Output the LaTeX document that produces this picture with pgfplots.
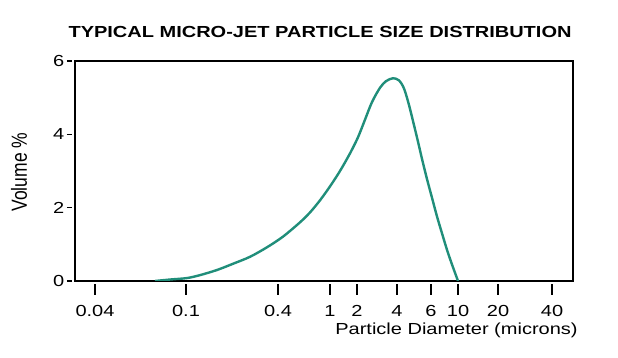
\documentclass[border=0pt]{standalone}
\usepackage{fontspec}
\setmainfont{Liberation Sans}[FakeStretch=1.25]
\newfontfamily\plainfont{Liberation Sans}
\usepackage{graphicx}
\usepackage{pgfplots}
\pgfplotsset{compat=1.18}
\definecolor{curve}{RGB}{32,142,122}
\begin{document}
\begin{tikzpicture}[x=1pt,y=1pt]
\path[use as bounding box] (0,0) rectangle (618,358);
\begin{axis}[
  at={(75pt,77pt)}, anchor=south west,
  scale only axis, width=498pt, height=220pt,
  xmin=75, xmax=573, ymin=0, ymax=6,
  xtick={95,186,278,330,357,397,431,458,498,552},
  xticklabels={0.04,0.1,0.4,1,2,4,6,10,20,40},
  ytick={0,2,4,6},
  axis line style={line width=2pt},
  tick align=outside, tick pos=left,
  xtick style={line width=1.6pt, black, /pgfplots/major tick length=11pt, yshift=-3pt},
  ytick style={line width=1.6pt, black, /pgfplots/major tick length=5pt, xshift=-3pt},
  /pgf/number format/assume math mode=true,
  ticklabel style={font=\fontsize{16}{19}\selectfont},
  xticklabel style={anchor=north, yshift=-17pt},
  yticklabel style={anchor=east, xshift=-3pt},
  every axis title shift=0pt,
  title={\bfseries TYPICAL MICRO-JET PARTICLE SIZE DISTRIBUTION},
  title style={at={(rel axis cs:0.492,1.109)}, anchor=base, font=\fontsize{16}{19}\selectfont},
  xlabel={Particle Diameter (microns)},
  xlabel style={at={(rel axis cs:0.766,-0.241)}, anchor=base, font=\fontsize{16}{19}\selectfont},
  ylabel={\scalebox{1}[1.25]{\plainfont\fontsize{17.5}{20}\selectfont Volume \%}},
  ylabel style={at={(rel axis cs:-0.0964,0.495)}, anchor=base, font=\fontsize{17.5}{20}\selectfont},
]
\addplot[curve, line width=2.4pt, smooth] coordinates {
(155,0.0) (170,0.04) (187,0.08) (200,0.16) (217,0.30) (233,0.47) (250,0.66)
(267,0.92) (283,1.21) (300,1.60) (310,1.87) (320,2.2) (330,2.58) (340,3.0)
(350,3.48) (358,3.92) (365,4.4) (372,4.88) (380,5.27) (386,5.45) (393,5.53) (399,5.47)
(404,5.25) (409,4.8) (414,4.25) (418,3.8) (422,3.33) (427,2.78) (432,2.27)
(437,1.76) (442,1.3) (447,0.85) (452,0.45) (458,0.0)
};
\end{axis}
\end{tikzpicture}
\end{document}
